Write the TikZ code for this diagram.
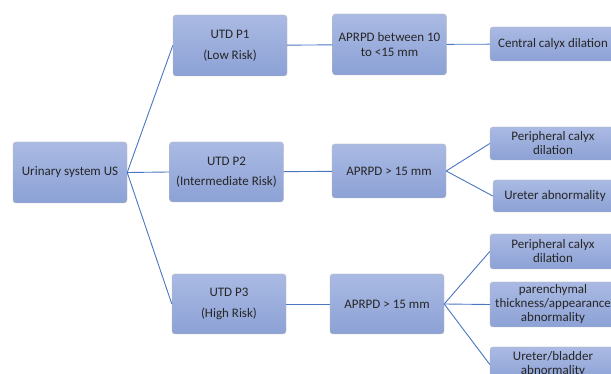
\documentclass[tikz,border=0pt]{standalone}
\usepackage{fontspec}
\setmainfont{Carlito}
\definecolor{boxtop}{HTML}{AABAE3}
\definecolor{boxbot}{HTML}{8CA1D5}
\definecolor{linkblue}{HTML}{4A76C2}
\begin{document}
\begin{tikzpicture}[
  x=1pt, y=-1pt,
  box/.style={draw=gray!55, rounded corners=3pt, top color=boxtop, bottom color=boxbot,
    align=center, font=\fontsize{13}{14.5}\selectfont, text=black!85, inner sep=1pt},
  utd/.style={box, minimum width=114pt, minimum height=61pt},
  leaf/.style={box, minimum width=126pt, font=\fontsize{13}{14}\selectfont},
  link/.style={draw=linkblue, line width=0.9pt}
  ]
	\useasboundingbox (0,0) rectangle (611,374);
	\clip (0,0) rectangle (611,374);

	\node[utd] (us) at (70,172.5) {Urinary system US};

	\node[utd] (p1) at (230,45.5) {UTD P1\\[6pt](Low Risk)};
	\node[utd, minimum height=60pt] (p2) at (226.5,172) {UTD P2\\[6pt](Intermediate Risk)};
	\node[utd, minimum height=60pt] (p3) at (229,304) {UTD P3\\[6pt](High Risk)};

	\node[utd] (a1) at (389.5,44.5) {APRPD between 10\\to <15 mm};
	\node[utd, minimum height=54pt] (a2) at (389,171) {APRPD > 15 mm};
	\node[utd, minimum height=60pt] (a3) at (387,304) {APRPD > 15 mm};

	\node[leaf, minimum height=34pt] (central) at (553,44) {Central calyx dilation};
	\node[leaf, minimum height=33pt] (peri2) at (553,143.5) {Peripheral calyx\\dilation};
	\node[leaf, minimum height=32pt, minimum width=124pt] (ureter) at (555,196) {Ureter abnormality};
	\node[leaf, minimum height=35pt] (peri3) at (553,251.5) {Peripheral calyx\\dilation};
	\node[leaf, minimum height=45pt] (paren) at (553,304.5) {parenchymal\\thickness/appearance\\abnormality};
	\node[leaf, minimum height=35pt] (ublad) at (553,364.5) {Ureter/bladder\\abnormality};

	\draw[link] (us.east) -- (p1.west);
	\draw[link] (us.east) -- (p2.west);
	\draw[link] (us.east) -- (p3.west);

	\draw[link] (p1) -- (a1);
	\draw[link] (p2) -- (a2);
	\draw[link] (p3) -- (a3);

	\draw[link] (a1) -- (central);
	\draw[link] (a2.east) -- (peri2.west);
	\draw[link] (a2.east) -- (ureter.west);
	\draw[link] (a3.east) -- (peri3.west);
	\draw[link] (a3.east) -- (paren.west);
	\draw[link] (a3.east) -- (ublad.west);
\end{tikzpicture}
\end{document}
